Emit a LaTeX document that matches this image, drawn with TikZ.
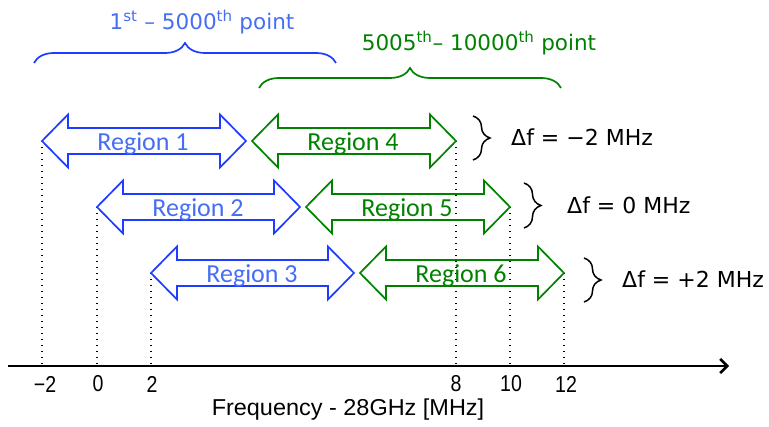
\documentclass[tikz,border=0pt]{standalone}
\usepackage{fontspec}
\usepackage{graphicx}
\setmainfont{Carlito}
\newfontfamily\dvfont{DejaVu Sans}
\newfontfamily\lbfont{Liberation Sans}
\usetikzlibrary{arrows.meta,decorations.pathreplacing}
\definecolor{blueline}{RGB}{30,60,255}
\definecolor{bluetext}{RGB}{70,110,245}
\definecolor{grn}{RGB}{0,130,0}
\newcommand\regarrow[4]{%
  \draw[#4, arrline] (#1,#3) -- ++(26,-26.5) -- ++(0,13.5) -- ({#2-26},{#3-13})
    -- ({#2-26},{#3-26.5}) -- (#2,#3) -- ({#2-26},{#3+26.5}) -- ({#2-26},{#3+13})
    -- ({#1+26},{#3+13}) -- ({#1+26},{#3+26.5}) -- cycle;}
\begin{document}
\begin{tikzpicture}[x=1pt,y=-1pt,
  arrline/.style={line width=1.7pt, line join=miter},
  regtext/.style={font=\fontsize{26}{28}\selectfont, inner sep=0pt},
  bracetext/.style={font=\dvfont\fontsize{21.5}{24}\selectfont, inner sep=0pt},
  dftext/.style={font=\dvfont\fontsize{22}{24}\selectfont, inner sep=0pt, anchor=west},
  ticktext/.style={font=\lbfont\fontsize{23}{25}\selectfont, inner sep=0pt},
  dotline/.style={black, line width=1.5pt, dash pattern=on 1.5pt off 4.5pt},
  topbrace/.style={line width=1.7pt, decorate, decoration={brace, amplitude=20pt}},
  sidebrace/.style={black, line width=1.5pt, decorate, decoration={brace, amplitude=17pt}}]
\useasboundingbox (0,0) rectangle (769,427);

% tips
\coordinate (a1l) at (42,141);  \coordinate (a1r) at (246,141);
\coordinate (a4l) at (252,141); \coordinate (a4r) at (456,141);
\coordinate (a2l) at (97,207);  \coordinate (a2r) at (300,207);
\coordinate (a5l) at (306,207); \coordinate (a5r) at (510,207);
\coordinate (a3l) at (151,273); \coordinate (a3r) at (354,273);
\coordinate (a6l) at (360,273); \coordinate (a6r) at (564,273);

% axis
\coordinate (axl) at (8,366);
\coordinate (axr) at (729,366);

% dotted guides
\foreach \p in {a1l,a2l,a3l,a4r,a5r,a6r}
  \draw[dotline] (\p) -- (\p |- axl);

% region arrows
\regarrow{42}{246}{141}{blueline}
\regarrow{252}{456}{141}{grn}
\regarrow{97}{300}{207}{blueline}
\regarrow{306}{510}{207}{grn}
\regarrow{151}{354}{273}{blueline}
\regarrow{360}{564}{273}{grn}

\node[regtext, text=bluetext] (r1) at (143,144) {Region 1};
\node[regtext, text=grn]      (r4) at (353,144) {Region 4};
\node[regtext, text=bluetext] (r2) at (198,210) {Region 2};
\node[regtext, text=grn]      (r5) at (407,210) {Region 5};
\node[regtext, text=bluetext] (r3) at (252,276) {Region 3};
\node[regtext, text=grn]      (r6) at (461,276) {Region 6};

% axis line
\draw[line width=2.6pt, -{Straight Barb[length=7pt,width=14pt,line width=2.6pt]}] (axl) -- (axr);

% tick labels
\node[ticktext] (t1) at (45,384) {\scalebox{0.85}[1]{−2}};
\node[ticktext] (t2) at (98,384) {\scalebox{0.85}[1]{0}};
\node[ticktext] (t3) at (152,384) {\scalebox{0.85}[1]{2}};
\node[ticktext] (t4) at (456,384) {\scalebox{0.85}[1]{8}};
\node[ticktext] (t5) at (511,384) {\scalebox{0.85}[1]{10}};
\node[ticktext] (t6) at (566,384) {\scalebox{0.85}[1]{12}};
\node[ticktext] (xl) at (348,410) {\scalebox{1.02}[1]{Frequency - 28GHz [MHz]}};

% top braces
\coordinate (b1l) at (34,63); \coordinate (b1r) at (336,63);
\coordinate (b2l) at (259,88); \coordinate (b2r) at (561,88);
\draw[topbrace, blueline] (b1l) -- (b1r);
\draw[topbrace, grn] (b2l) -- (b2r);
\node[bracetext, text=bluetext] (p1) at (202,22) {1\textsuperscript{st} – 5000\textsuperscript{th} point};
\node[bracetext, text=grn] (p2) at (479,43) {5005\textsuperscript{th}– 10000\textsuperscript{th} point};

% side braces
\coordinate (s1t) at (473,116); \coordinate (s1b) at (473,160);
\coordinate (s2t) at (524,183); \coordinate (s2b) at (524,228);
\coordinate (s3t) at (584,258); \coordinate (s3b) at (584,302);
\draw[sidebrace] (s1t) -- (s1b);
\draw[sidebrace] (s2t) -- (s2b);
\draw[sidebrace] (s3t) -- (s3b);
\node[dftext] (d1) at (511,137) {Δf = −2 MHz};
\node[dftext] (d2) at (567,205) {Δf = 0 MHz};
\node[dftext] (d3) at (622,279) {Δf = +2 MHz};
\end{tikzpicture}
\end{document}
